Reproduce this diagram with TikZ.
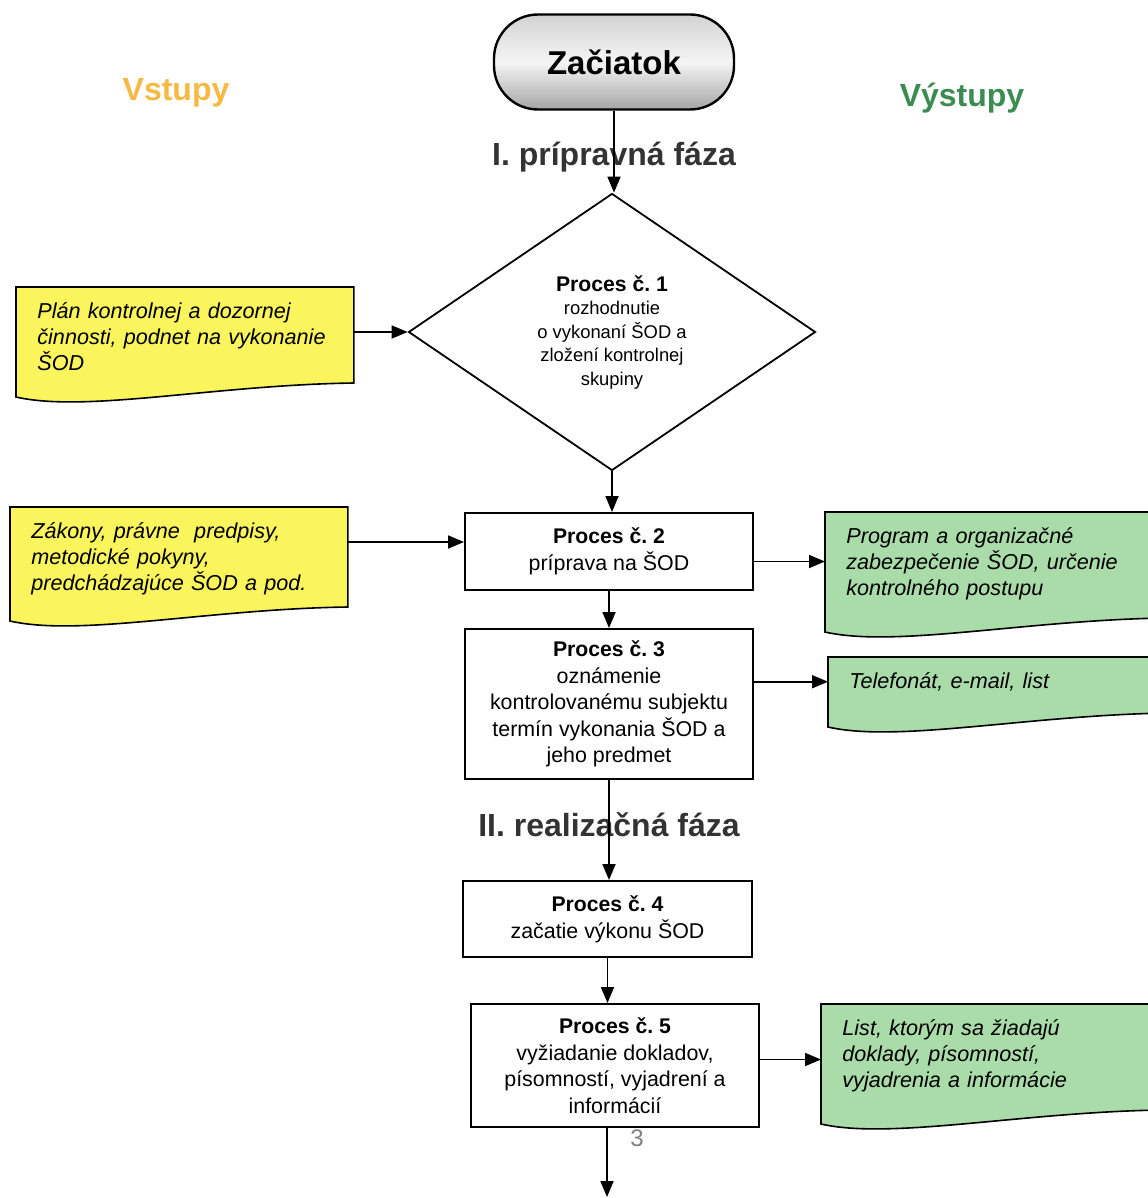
\documentclass[tikz,border=0pt]{standalone}
\usepackage{fontspec}
\setmainfont{Liberation Sans}
\usepackage{tikz}
\usetikzlibrary{arrows.meta, shapes.geometric, positioning, calc, backgrounds}
\definecolor{docyellow}{HTML}{FAF55C}
\definecolor{docgreen}{HTML}{A9DCA9}
\definecolor{vstupcolor}{HTML}{F7B844}
\definecolor{vystupcolor}{HTML}{3C8C52}
\definecolor{fazacolor}{HTML}{333333}
\newcommand{\pc}[1]{{\fontsize{10.6}{12}\selectfont\textbf{Proces č.~#1}}}

\begin{document}
\begin{tikzpicture}[x=0.5pt, y=-0.5pt, >={Triangle[length=8pt,width=6.5pt]},
  proc/.style={draw, line width=1pt, align=center, minimum width=144pt, inner sep=2pt, font=\fontsize{10.7}{13.3}\selectfont},
  doc/.style={anchor=north west, align=left, inner xsep=10.5pt, inner ysep=7.5pt, font=\fontsize{10.8}{13}\selectfont\itshape},
  faza/.style={font=\fontsize{16}{19}\selectfont\bfseries, text=fazacolor},
  head/.style={font=\fontsize{16}{19}\selectfont\bfseries},
  link/.style={->, line width=0.9pt}]
\useasboundingbox (0,0) rectangle (1147,1198);

\node[head, text=vstupcolor] (vstupy) at (176,93) {Vstupy};
\node[head, text=vystupcolor] (vystupy) at (962,98) {Výstupy};

\node[draw, line width=1.2pt, rounded corners=22pt, minimum width=120pt, minimum height=47.5pt, top color=gray!35, bottom color=gray!70, middle color=gray!8, font=\fontsize{16.5}{19}\selectfont\bfseries] (start) at (614,62) {Začiatok};
\node[faza] (faza1) at (614,157) {I. prípravná fáza};
\node[draw, diamond, line width=0.9pt, aspect=1.47, minimum width=203.5pt, minimum height=138.5pt, inner sep=0pt, align=center, font=\fontsize{9.2}{11.75}\selectfont] (p1) at (612,332) {\pc{1}\\rozhodnutie\\o vykonaní ŠOD a\\zložení kontrolnej\\skupiny};
\node[proc, minimum height=38.5pt] (p2) at (609,551.5) {\pc{2}\\príprava na ŠOD};
\node[proc, minimum height=75pt] (p3) at (609,704) {\pc{3}\\oznámenie\\kontrolovanému subjektu\\termín vykonania ŠOD a\\jeho predmet};
\node[faza] (faza2) at (609,825) {II. realizačná fáza};
\node[proc, minimum height=38pt, minimum width=144.5pt] (p4) at (607.5,919) {\pc{4}\\začatie výkonu ŠOD};
\node[proc, minimum height=61.5pt] (p5) at (615,1065.5) {\pc{5}\\vyžiadanie dokladov,\\písomností, vyjadrení a\\informácií};
\node[text=gray, font=\fontsize{12}{14}\selectfont] (strana) at (637,1138) {3};
\coordinate (dalej) at (607,1197);

% vstupy a vystupy
\node[doc, text width=147.5pt] (plan) at (16,287) {Plán kontrolnej a dozornej\\činnosti, podnet na vykonanie\\ŠOD};
\node[doc, text width=147.5pt] (zakony) at (10,507) {Zákony, právne\ \ predpisy,\\metodické pokyny,\\predchádzajúce ŠOD a pod.};
\node[doc, text width=149pt] (program) at (825,512) {Program a organizačné\\zabezpečenie ŠOD, určenie\\kontrolného postupu};
\node[doc, text width=149pt] (telefon) at (828,657) {Telefonát, e-mail, list};
\node[doc, text width=149pt] (listdoc) at (821,1004) {List, ktorým sa žiadajú\\doklady, písomností,\\vyjadrenia a informácie};

\begin{scope}[on background layer]
\foreach \n/\h/\c in {plan/96/docyellow, zakony/100/docyellow, program/106/docgreen, telefon/56/docgreen, listdoc/106/docgreen}
  \draw[fill=\c, line width=0.8pt] (\n.north west) -- (\n.north east) -- ($(\n.north east)+(0,\h)$)
    .. controls ($(\n.north east)+(-140,\h+2)$) and ($(\n.north west)+(70,\h+30)$) .. ($(\n.north west)+(0,\h+14)$) -- cycle;
\end{scope}

\draw[link] (start.south) -- (start.south |- p1.north);
\draw[link] (p1.south) -- (p1.south |- p2.north);
\draw[link] (p2) -- (p2.south |- p3.north);
\draw[link] (p3) -- (p3.south |- p4.north);
\draw[link] (p4) -- (p4.south |- p5.north);
\draw[link] (dalej |- p5.south) -- (dalej);

\draw[link] (plan.east |- p1.west) -- (p1.west);
\draw[link] ([yshift=4.75pt]p2.west -| zakony.east) -- ([yshift=4.75pt]p2.west);
\draw[link] ([yshift=-5pt]p2.east) -- ([yshift=-5pt]p2.east -| program.west);
\draw[link] (telefon.west -| p3.east) -- (telefon.west);
\draw[link] ([yshift=3pt]p5.east) -- ([yshift=3pt]p5.east -| listdoc.west);
\end{tikzpicture}
\end{document}
